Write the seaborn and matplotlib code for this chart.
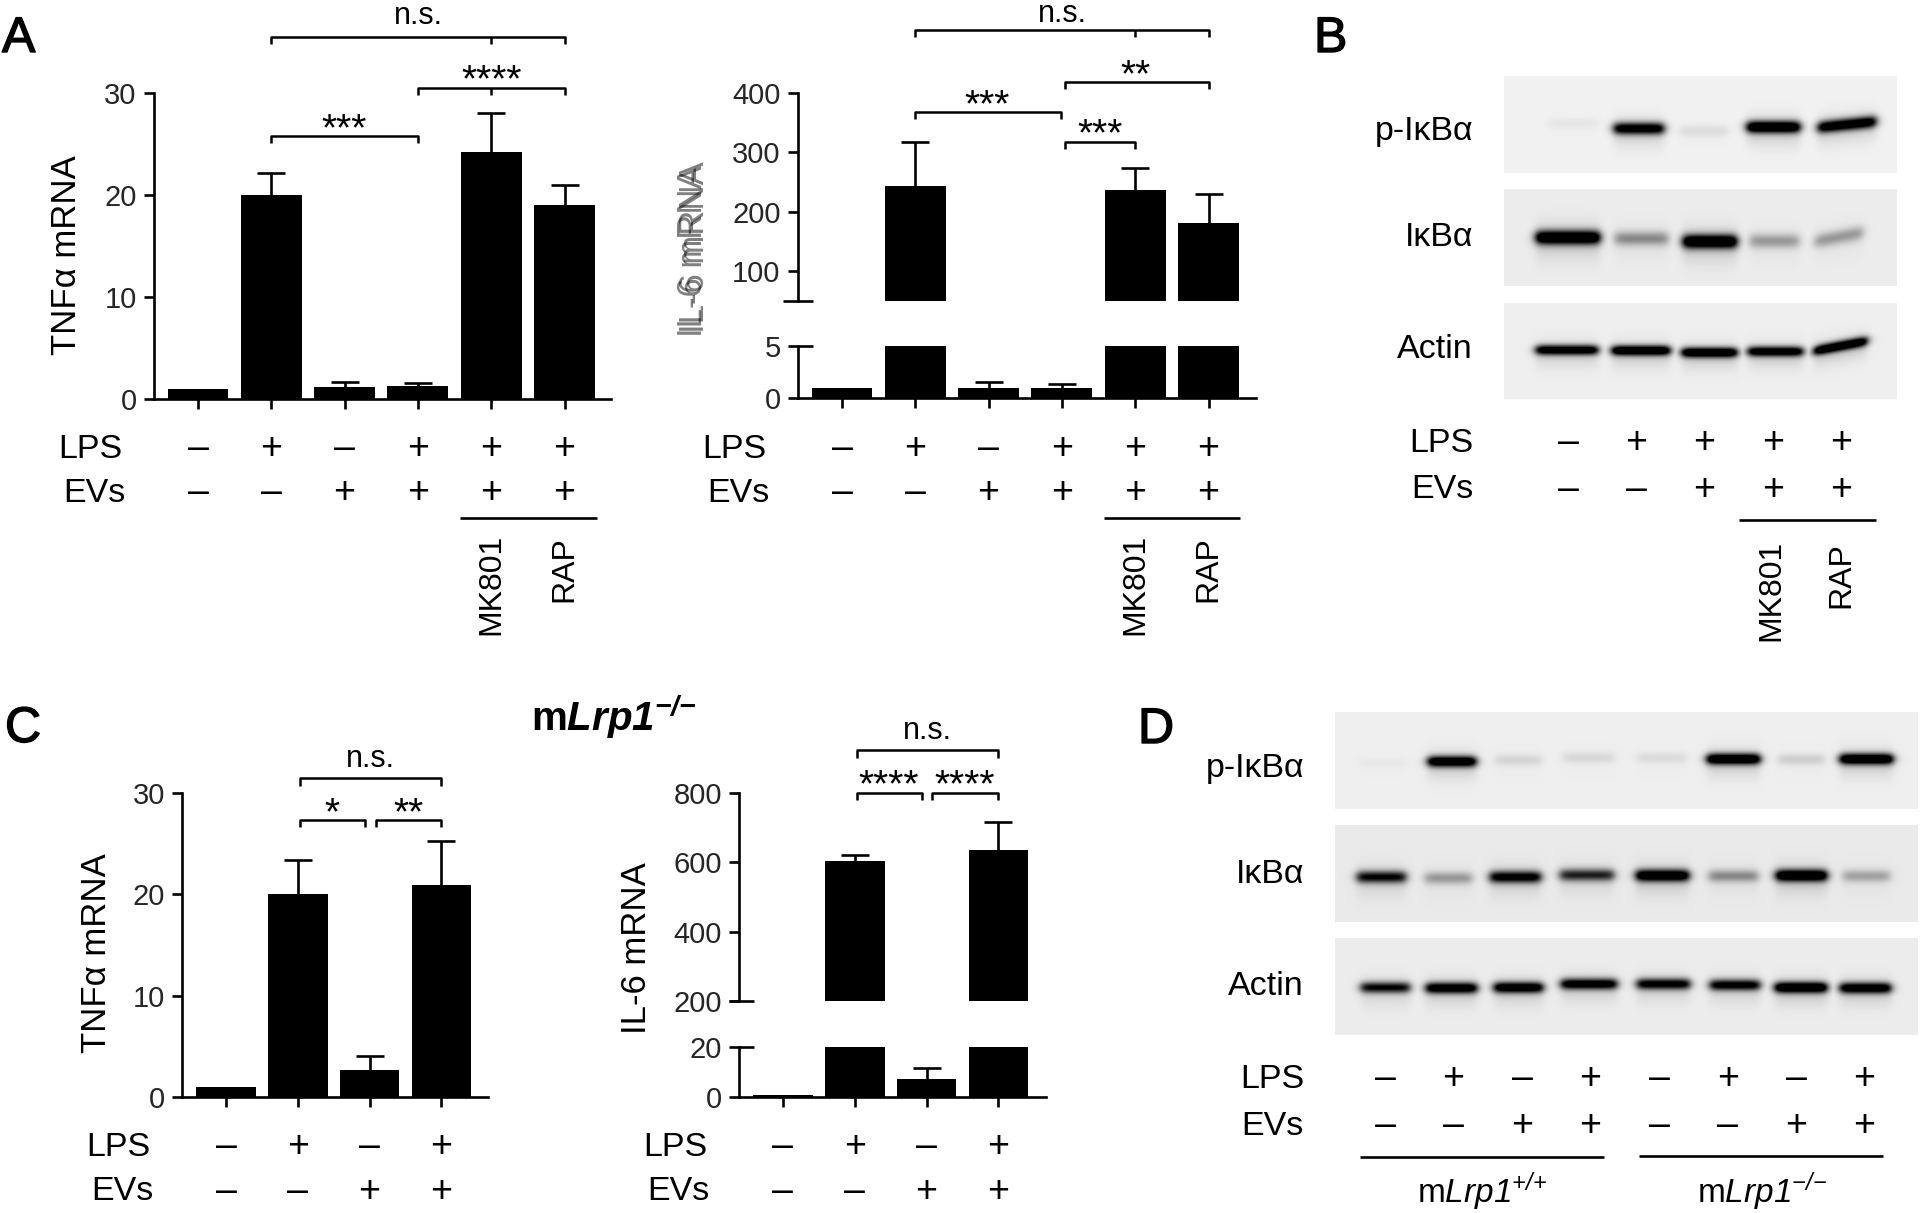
import numpy as np
import pandas as pd
import matplotlib
matplotlib.use('Agg')
import matplotlib.pyplot as plt
import matplotlib.patheffects as pe
from matplotlib.lines import Line2D
import seaborn as sns

# Bar data
groups_6 = ['ctrl', 'LPS', 'EVs', 'LPS+EVs', 'MK801', 'RAP']
groups_4 = ['ctrl', 'LPS', 'EVs', 'LPS+EVs']

tnf_a = [1, 20, 1.2, 1.3, 24.2, 19]
tnf_a_top = [np.nan, 22.2, 1.7, 1.6, 28, 21]
il6_a = [1, 243, 1, 1, 236, 180]
il6_a_top = [np.nan, 317, 1.5, 1.35, 273, 229]
tnf_c = [1, 20, 2.7, 20.9]
tnf_c_top = [np.nan, 23.4, 4.05, 25.2]
il6_c = [0.9, 603, 7.1, 637]
il6_c_top = [np.nan, 622, 11.7, 716]

# +/- rows
lps_6 = ['–', '+', '–', '+', '+', '+']
evs_6 = ['–', '–', '+', '+', '+', '+']
lps_4 = ['–', '+', '–', '+']
evs_4 = ['–', '–', '+', '+']
lps_b = ['–', '+', '+', '+', '+']
evs_b = ['–', '–', '+', '+', '+']
lps_d = ['–', '+', '–', '+', '–', '+', '–', '+']
evs_d = ['–', '–', '+', '+', '–', '–', '+', '+']

# Blot bands: left edge, right edge, height, strength, tilt
b_p_left = [1549, 1614, 1680, 1747, 1818]
b_p_right = [1598, 1664, 1728, 1800, 1876]
b_p_y = [123.5, 128.5, 131, 127, 124.5]
b_p_s = [0.035, 0.85, 0.06, 1.0, 0.9]
b_p_tilt = [0, 0, 0, 0, -6]
b_i_left = [1536, 1615, 1683, 1750, 1815]
b_i_right = [1600, 1668, 1737, 1799, 1863]
b_i_y = [237.5, 238.5, 241.5, 241, 237]
b_i_s = [1.0, 0.3, 1.0, 0.25, 0.25]
b_i_tilt = [0, 0, 0, 0, -9]
b_a_left = [1536, 1612, 1682, 1748, 1814]
b_a_right = [1598, 1670, 1737, 1803, 1867]
b_a_y = [350, 350.5, 352.5, 351.5, 346]
b_a_s = [0.9, 1.0, 1.0, 0.9, 1.0]
b_a_tilt = [0, 0, 0, 0, -10]

d_p_left = [1360, 1428, 1495, 1563, 1638, 1707, 1778, 1840]
d_p_right = [1406, 1476, 1541, 1614, 1686, 1760, 1824, 1893]
d_p_y = [763, 761.5, 760, 757.5, 758, 759, 759.5, 759]
d_p_s = [0.02, 0.95, 0.08, 0.07, 0.06, 1.0, 0.1, 1.0]
d_i_left = [1357, 1425, 1490, 1560, 1636, 1709, 1776, 1843]
d_i_right = [1406, 1472, 1541, 1614, 1689, 1758, 1827, 1890]
d_i_y = [877, 878, 877, 875, 875.5, 876, 875.5, 876]
d_i_s = [0.72, 0.25, 0.8, 0.62, 0.95, 0.3, 1.0, 0.22]
d_a_left = [1361, 1426, 1494, 1561, 1637, 1710, 1775, 1840]
d_a_right = [1410, 1477, 1543, 1617, 1690, 1760, 1827, 1891]
d_a_y = [987.5, 988, 987.5, 984, 984, 985, 987.5, 988]
d_a_s = [0.72, 0.9, 0.9, 0.85, 0.8, 0.8, 1.0, 0.9]

sns.set_theme(style='white')
plt.rcParams['font.family'] = ['Liberation Sans', 'DejaVu Sans']
plt.rcParams['mathtext.fontset'] = 'custom'
plt.rcParams['mathtext.rm'] = 'Liberation Sans'
plt.rcParams['mathtext.it'] = 'Liberation Sans:italic'
plt.rcParams['mathtext.cal'] = 'Liberation Sans:italic'
plt.rcParams['mathtext.bf'] = 'Liberation Sans:bold'
plt.rcParams['mathtext.bfit'] = 'Liberation Sans:italic:bold'

W, H = 1920, 1213
LW = 1.9
fig = plt.figure(figsize=(W / 100, H / 100), dpi=100, facecolor='white')


def put(x, y, s, size=24.5, ha='center', va='center', **kw):
    if va == 'center' and 'rotation' not in kw:
        y = y + 3
    return fig.text(x / W, 1 - y / H, s, fontsize=size, ha=ha, va=va, color='black', **kw)


def line(xs, ys, lw=LW):
    fig.add_artist(Line2D([x / W for x in xs], [1 - y / H for y in ys],
                          color='black', lw=lw, solid_capstyle='butt'))


def new_axes(left, top, right, bottom):
    return fig.add_axes([left / W, 1 - bottom / H, (right - left) / W, (bottom - top) / H])


def draw_bars(ax, groups, values, tops, x_axis, x_end, c0, step):
    df = pd.DataFrame({'group': groups, 'value': values, 'top': tops})
    sns.barplot(data=df, x='group', y='value', color='black', saturation=1,
                width=0.83, errorbar=None, linewidth=0, ax=ax)
    err = df.dropna()
    _, caps, _ = ax.errorbar(err.index, err['value'], yerr=[np.zeros(len(err)), err['top'] - err['value']],
                             fmt='none', ecolor='black', elinewidth=LW, capsize=10.4, capthick=LW)
    caps[0].set_visible(False)
    ax.set_xlim((x_axis - c0) / step, (x_end - c0) / step)
    ax.set(xlabel=None, ylabel=None)
    ax.set_facecolor('none')
    sns.despine(ax=ax)
    for sp in ax.spines.values():
        sp.set_linewidth(LW)
        sp.set_color('black')
    ax.tick_params(axis='y', left=True, length=7.2, width=LW, labelsize=21, pad=5, color='black')


def simple_panel(groups, values, tops, x_axis, x_end, c0, step, y_top, y_zero, ymax, ticks):
    ax = new_axes(x_axis, y_top, x_end, y_zero)
    draw_bars(ax, groups, values, tops, x_axis, x_end, c0, step)
    ax.set_ylim(0, ymax)
    ax.set_yticks(ticks)
    ax.set_xticks(range(len(groups)))
    ax.set_xticklabels([])
    ax.tick_params(axis='x', bottom=True, length=7, width=LW, color='black')
    return ax


def broken_panel(groups, values, tops, x_axis, x_end, c0, step, y_top, y_break_hi, y_break_lo, y_zero,
                 ymax, ybreak_hi, ybreak_lo, ticks_hi, ticks_lo, left_stub):
    hi = new_axes(x_axis, y_top, x_end, y_break_hi)
    draw_bars(hi, groups, values, tops, x_axis, x_end, c0, step)
    hi.set_ylim(ybreak_hi, ymax)
    hi.set_yticks(ticks_hi)
    hi.spines['bottom'].set_visible(False)
    hi.set_xticks([])
    lo = new_axes(x_axis, y_break_lo, x_end, y_zero)
    draw_bars(lo, groups, values, tops, x_axis, x_end, c0, step)
    lo.set_ylim(0, ybreak_lo)
    lo.set_yticks(ticks_lo)
    lo.set_xticks(range(len(groups)))
    lo.set_xticklabels([])
    lo.tick_params(axis='x', bottom=True, length=7, width=LW, color='black')
    # long ticks at the break
    line([x_axis - left_stub, x_axis + 15], [y_break_hi, y_break_hi])
    line([x_axis, x_axis + 15], [y_break_lo, y_break_lo])
    return hi, lo


def bracket(x0, x1, y, drop=7, mid=None):
    line([x0, x0, x1, x1], [y + drop, y, y, y + drop], lw=1.8)
    if mid is not None:
        line([mid, mid], [y, y + drop], lw=1.8)


def stars(x, y, s):
    put(x, y + 20, s, size=28, va='baseline')


def ns(x, y):
    put(x, y, 'n.s.', size=22, va='baseline')


def letter(x, y, s):
    put(x, y, s, size=36, ha='left', va='baseline',
        path_effects=[pe.withStroke(linewidth=1.0, foreground='black')])


def rows(name_x, y_lps, y_evs, centers, lps, evs, evs_x=None):
    put(name_x, y_lps, 'LPS', ha='right')
    put(evs_x or name_x, y_evs, 'EVs', ha='right')
    for c, a, b in zip(centers, lps, evs):
        put(c, y_lps, a, size=27)
        put(c, y_evs, b, size=27)


def treatments(y_line, x0, x1, x_mk, x_rap, y_text):
    line([x0, x1], [y_line, y_line])
    put(x_mk, y_text, 'MK801', size=23, rotation=90, va='top')
    put(x_rap, y_text + 2, 'RAP', size=23, rotation=90, va='top')


def blot(left, top, right, bottom, bg, lefts, rights, ys, strengths, sigma, tilts=None):
    ax = new_axes(left, top, right, bottom)
    xx, yy = np.meshgrid(np.arange(left, right) + 0.5, np.arange(top, bottom) + 0.5)
    dark = np.zeros_like(xx)
    tilts = tilts or [0] * len(lefts)
    for l, r, yc, s, t in zip(lefts, rights, ys, strengths, tilts):
        env = 0.5 * (np.tanh((xx - l) / 5) - np.tanh((xx - r) / 5))
        centre = yc + t * ((xx - (l + r) / 2) / (r - l))
        core = np.exp(-((yy - centre) / sigma) ** 2)
        halo = 0.14 * np.exp(-((yy - centre - 4) / (sigma * 2.6)) ** 2)
        dark = np.maximum(dark, np.clip(s * env * (1.3 * core + halo), 0, 1))
    img = bg * (1 - dark)
    sns.heatmap(img, ax=ax, cmap='gray', vmin=0, vmax=1, cbar=False,
                xticklabels=False, yticklabels=False, rasterized=True)
    ax.set(xlabel=None, ylabel=None)


# Panel letters
letter(2, 52, 'A')
letter(1314, 52, 'B')
letter(5, 742, 'C')
letter(1138, 743, 'D')

# Panel A, TNF
cx = [198 + 73.3 * i for i in range(6)]
simple_panel(groups_6, tnf_a, tnf_a_top, 153.5, 611, cx[0], 73.3, 93, 399, 30, [0, 10, 20, 30])
put(67, 255, 'TNFα mRNA', size=25, rotation=90)
rows(122, 446, 490, cx, lps_6, evs_6, evs_x=125)
treatments(518, 460, 597, cx[4], cx[5], 534)
bracket(cx[1], cx[5], 36.5, mid=cx[4])
bracket(cx[3], cx[5], 88, mid=cx[4])
bracket(cx[1], cx[3], 136)
ns(418, 24)
stars(cx[4], 71, '****')
stars(344, 120, '***')

# Panel A, IL-6
cx = [842 + 73.3 * i for i in range(6)]
broken_panel(groups_6, il6_a, il6_a_top, 797.5, 1255.5, cx[0], 73.3, 93, 300.6, 346.2, 398,
             400, 50, 5, [100, 200, 300, 400], [0, 5], 15)
put(692, 251, 'IL-6 mRNA', size=25, rotation=90, alpha=0.5)
put(694, 247, 'IL-6 mRNA', size=25, rotation=90, alpha=0.5)
rows(766, 446, 490, cx, lps_6, evs_6, evs_x=769)
treatments(518, 1104, 1240, cx[4], cx[5], 534)
bracket(cx[1], cx[5], 30, mid=cx[4])
bracket(1064.5, cx[5], 82)
bracket(cx[1], 1060.5, 112)
bracket(1064.5, cx[4], 142)
ns(1062, 22.5)
stars(cx[4], 66, '**')
stars(987, 96.5, '***')
stars(1100, 125.5, '***')

# Panel B
blot(1504, 76, 1897, 173, 0.945, b_p_left, b_p_right, b_p_y, b_p_s, 6, b_p_tilt)
blot(1504, 189, 1897, 286, 0.925, b_i_left, b_i_right, b_i_y, b_i_s, 7, b_i_tilt)
blot(1504, 303, 1897, 399, 0.935, b_a_left, b_a_right, b_a_y, b_a_s, 5, b_a_tilt)
put(1473, 128.5, 'p-IκBα', ha='right')
put(1473, 234, 'IκBα', ha='right')
put(1473, 347, 'Actin', ha='right')
cx = [1568, 1636.5, 1704.5, 1773, 1841]
rows(1473, 440, 487, cx, lps_b, evs_b)
treatments(519.5, 1739, 1876, 1771.5, 1841, 540)

# Panel C, TNF
cx = [226 + 71.8 * i for i in range(4)]
simple_panel(groups_4, tnf_c, tnf_c_top, 181.8, 487.7, cx[0], 71.8, 792.7, 1097.3, 30, [0, 10, 20, 30])
put(97, 953, 'TNFα mRNA', size=25, rotation=90)
rows(150, 1144, 1189, cx, lps_4, evs_4, evs_x=153)
bracket(299.5, cx[3], 778, drop=8)
bracket(299.5, 365, 820, drop=7)
bracket(375.5, cx[3], 820, drop=7)
ns(370.5, 766.7)
stars(332, 804, '*')
stars(408.5, 804, '**')

# Panel C, IL-6
cx = [783 + 71.8 * i for i in range(4)]
broken_panel(groups_4, il6_c, il6_c_top, 739, 1045.6, cx[0], 71.8, 793.3, 1000.7, 1046.7, 1097.3,
             800, 200, 20, [200, 400, 600, 800], [0, 20], 10)
put(637, 948, 'IL-6 mRNA', size=25, rotation=90)
rows(707.5, 1144, 1189, cx, lps_4, evs_4, evs_x=710)
bracket(857, cx[3], 750, drop=8)
bracket(857, 922, 792.7, drop=7)
bracket(932, cx[3], 792.7, drop=7)
ns(927.5, 739)
stars(889, 776.7, '****')
stars(965, 776.7, '****')

put(614, 731, r'$\mathbf{m}\mathbfit{Lrp1}^{\mathbfit{{-}/{-}}}$', size=29, va='baseline')

# Panel D
blot(1335, 712, 1918, 809, 0.935, d_p_left, d_p_right, d_p_y, d_p_s, 5.5)
blot(1335, 825, 1918, 922, 0.915, d_i_left, d_i_right, d_i_y, d_i_s, 6)
blot(1335, 938, 1918, 1035, 0.925, d_a_left, d_a_right, d_a_y, d_a_s, 5.5)
put(1304, 765, 'p-IκBα', ha='right')
put(1304, 871.5, 'IκBα', ha='right')
put(1304, 983.5, 'Actin', ha='right')
cx = [1385.3, 1453.2, 1522, 1590.4, 1659.8, 1727.7, 1796, 1864.4]
rows(1304, 1076, 1123.3, cx, lps_d, evs_d)
line([1360, 1604], [1156.7, 1156.7])
line([1639, 1883], [1155.7, 1155.7])
put(1482, 1203, r'$\mathrm{m}\mathcal{Lrp1}^{\mathcal{{+}/{+}}}$', size=24, va='baseline')
put(1762, 1203, r'$\mathrm{m}\mathcal{Lrp1}^{\mathcal{{-}/{-}}}$', size=24, va='baseline')

plt.savefig('out.png', dpi=100, facecolor='white')
